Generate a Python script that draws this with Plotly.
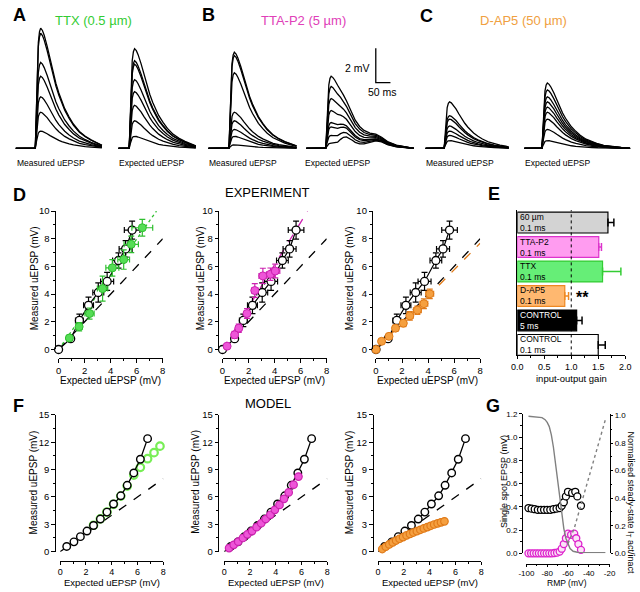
import plotly.graph_objects as go

FONT = "Liberation Sans, Arial, sans-serif"
W, H = 640, 592


def px(x):
    return x / W


def py(y):
    return 1 - y / H


# ====================== DATA ======================
# Panels A-C: peak amplitude of each superimposed sweep (mV)
A_MEASURED_AMP = [7.0, 6.7, 5.0, 4.2, 3.0, 2.1, 1.0]
A_EXPECTED_AMP = [5.8, 5.1, 4.9, 4.0, 3.3, 2.5, 1.6, 0.7]
B_MEASURED_AMP = [5.6, 5.4, 4.4, 2.1, 1.6, 1.1, 0.7, 0.2]
B_EXPECTED_AMP = [4.2, 3.6, 2.9, 2.2, 1.5, 1.25, 0.75, 0.3]
C_MEASURED_AMP = [2.7, 1.9, 1.7, 1.3, 1.0, 0.75, 0.45]
C_EXPECTED_AMP = [3.8, 3.4, 3.0, 2.7, 2.4, 2.1, 1.7, 1.1, 0.45]
# normalised uEPSP waveform read from the sweeps (time from stimulus, ms)
EPSP_T_MS = [-100, -1, 0, 3, 6, 10, 14, 18, 24, 30, 40, 50, 60, 70, 80, 90, 100,
             115, 130, 150, 170, 190, 210, 240, 270, 300]
EPSP_SHAPE = [0, 0, 0.03, 0.35, 0.68, 0.88, 0.97, 1.0, 0.98, 0.94, 0.85, 0.74, 0.63,
              0.54, 0.46, 0.39, 0.33, 0.26, 0.2, 0.14, 0.1, 0.07, 0.045, 0.025, 0.012, 0.0]
# late components in the TTA-P2 expected sweeps (mV)
B_EXPECTED_TAIL_MV = [0, 0, 0, 0, 0, 0, 0, 0, 0, 0.03, 0.1, 0.3, 0.45, 0.5, 0.45, 0.35,
                      0.25, 0.18, 0.2, 0.3, 0.4, 0.35, 0.2, 0.08, 0.03, 0.0]
SCALE_MV = 2
SCALE_MS = 50

# Panel D (experiment): expected vs measured uEPSP (mV)
CTRL_X = [0, 0.93, 1.6, 2.3, 3.05, 3.73, 4.6, 5.15, 5.65]
CTRL_Y = [0, 0.78, 2.1, 3.19, 4.12, 4.92, 6.43, 7.27, 8.63]
CTRL_XERR = [0, 0.15, 0.3, 0.38, 0.42, 0.5, 0.45, 0.5, 0.6]
CTRL_YERR = [0, 0.15, 0.45, 0.6, 0.7, 0.65, 0.55, 0.6, 0.65]

TTX_X = [0.83, 1.58, 2.38, 3.38, 4.13, 5.0, 5.58, 6.43]
TTX_Y = [0.83, 1.65, 2.6, 4.4, 5.9, 6.5, 7.6, 8.8]
TTX_XERR = [0.15, 0.25, 0.35, 0.4, 0.5, 0.45, 0.55, 0.8]
TTX_YERR = [0.2, 0.3, 0.4, 0.9, 0.6, 0.7, 0.6, 0.6]
TTX_SLOPE = 1.33

TTA_X = [0.35, 0.93, 1.25, 1.88, 2.48, 3.1, 3.68, 4.05]
TTA_Y = [0.24, 1.06, 1.54, 2.6, 4.26, 5.32, 5.44, 5.67]
TTA_XERR = [0.1, 0.15, 0.2, 0.2, 0.25, 0.3, 0.3, 0.35]
TTA_YERR = [0.1, 0.25, 0.3, 0.35, 0.5, 0.55, 0.45, 0.5]
TTA_SLOPE = 1.53

DAP5_X = [0, 0.43, 1.0, 1.5, 2.1, 2.6, 3.18, 3.68, 4.13]
DAP5_Y = [0, 0.59, 0.95, 1.54, 1.9, 2.43, 2.84, 3.31, 4.02]
DAP5_XERR = [0, 0.1, 0.12, 0.15, 0.2, 0.25, 0.3, 0.3, 0.3]
DAP5_YERR = [0, 0.1, 0.15, 0.2, 0.25, 0.3, 0.3, 0.35, 0.35]
DAP5_SLOPE = 0.96

UNITY = [0, 8]

# Panel E: input-output gain
E_LABELS = ["60 µm<br>0.1 ms", "TTA-P2<br>0.1 ms", "TTX<br>0.1 ms",
            "D-AP5<br>0.1 ms", "CONTROL<br>5 ms", "CONTROL<br>0.1 ms"]
E_KEYS = ["60um", "TTA-P2", "TTX", "D-AP5", "CTRL5", "CTRL01"]
E_GAIN = [1.68, 1.51, 1.58, 0.88, 1.10, 1.50]
E_SEM = [0.11, 0.05, 0.34, 0.07, 0.10, 0.13]
E_FILL = ["#d3d3d3", "#ff9cf0", "#66ee77", "#ffb870", "#000000", "#ffffff"]
E_EDGE = ["#000000", "#dd33cc", "#33cc33", "#ee8822", "#000000", "#000000"]
E_TEXT = ["#000000", "#000000", "#000000", "#000000", "#ffffff", "#000000"]
E_REF = 1.0

# Panel F (model)
M_CTRL_X = [0.51, 1.07, 1.57, 2.08, 2.59, 3.12, 3.63, 4.14, 4.7, 5.2, 5.71, 6.22, 6.78]
M_CTRL_Y = [0.57, 1.08, 1.65, 2.26, 2.87, 3.58, 4.34, 5.23, 6.13, 7.28, 8.64, 10.14, 12.4]
M_TTX_X = [2.59, 3.12, 3.63, 4.14, 4.7, 5.2, 5.71, 6.22, 6.78, 7.28, 7.74]
M_TTX_Y = [2.9, 3.6, 4.35, 5.2, 6.1, 7.2, 8.4, 9.25, 10.2, 10.86, 11.58]
M_TTA_X = [0.38, 0.74, 1.09, 1.45, 1.8, 2.16, 2.51, 2.87, 3.22, 3.58, 3.93, 4.29,
           4.64, 5.0, 5.38, 5.76]
M_TTA_Y = [0.39, 0.75, 1.1, 1.5, 1.9, 2.26, 2.69, 3.12, 3.58, 4.05, 4.59, 5.13,
           5.8, 6.5, 7.35, 8.24]
M_DAP5_X = [0.33, 0.6, 0.87, 1.14, 1.4, 1.67, 1.94, 2.21, 2.48, 2.74, 3.01, 3.28,
            3.55, 3.82, 4.08, 4.35, 4.62, 4.88, 5.15]
M_DAP5_Y = [0.29, 0.55, 0.8, 1.02, 1.22, 1.42, 1.6, 1.78, 1.95, 2.1, 2.25, 2.4,
            2.55, 2.7, 2.84, 2.98, 3.1, 3.22, 3.33]

# Panel G
G_CTRL_V = [-98, -95, -92, -89, -86, -83, -80, -77, -74, -71, -68, -66, -64, -62,
            -60, -56, -53, -51, -47.5]
G_CTRL_Y = [0.39, 0.385, 0.38, 0.375, 0.375, 0.375, 0.375, 0.375, 0.38, 0.385, 0.39,
            0.41, 0.44, 0.49, 0.53, 0.52, 0.53, 0.49, 0.41]
G_TTA_V = [-98, -95.5, -93, -90.5, -88, -85.5, -83, -80.5, -78, -75.5, -73, -70.5,
           -68, -66, -64, -62, -60, -57, -54, -52, -50, -47.5]
G_TTA_Y = [0, 0, 0, 0, 0, 0, 0, 0, 0, 0, 0.003, 0.006, 0.015, 0.04, 0.08, 0.13,
           0.17, 0.16, 0.17, 0.13, 0.08, 0.03]
G_INACT_V = [-98, -90, -85, -82, -80, -78, -76, -74, -72, -70, -68, -66, -64, -62,
             -60, -58, -55, -50, -40, -30, -24]
G_INACT = [0.995, 0.99, 0.985, 0.97, 0.95, 0.92, 0.86, 0.77, 0.65, 0.52, 0.39, 0.27,
           0.18, 0.11, 0.065, 0.035, 0.015, 0.006, 0.005, 0.005, 0.005]
G_ACT_V = [-60, -57, -54, -51, -48, -45, -42, -39, -36, -33, -30, -27, -24]
G_ACT = [0.07, 0.12, 0.18, 0.26, 0.34, 0.42, 0.5, 0.58, 0.66, 0.74, 0.82, 0.9, 0.97]
G_XTICKS = [-100, -80, -60, -40, -20]
G_XTICK_TEXT = ["-100", "-80", "-60", "-40", "-20"]

# ====================== COLOURS ======================
GREEN, GREEN_D = "#55dd55", "#2fbf2f"
MAG, MAG_D = "#ee55d8", "#cc22b0"
ORA, ORA_D = "#f5a040", "#e07a18"

fig = go.Figure()

# ---------------- A-C sweeps ----------------
MS_PER_PX = 50 / 15
MV_PER_PX = 2 / 35
BASE_PX = 145


def add_sweeps(amps, onset_px, pre_px, post_px, tail=None):
    onset = onset_px * MS_PER_PX
    pre = pre_px * MS_PER_PX
    post = post_px * MS_PER_PX
    for a in amps:
        xs, ys = [], []
        for i, t in enumerate(EPSP_T_MS):
            v = a * EPSP_SHAPE[i] + (tail[i] if tail else 0.0)
            tt = max(t, -pre)
            if tt > post:
                xs.append(onset + post)
                ys.append(v)
                break
            xs.append(onset + tt)
            ys.append(v)
        fig.add_trace(go.Scatter(x=xs, y=ys, mode="lines", xaxis="x", yaxis="y",
                                 line=dict(color="black", width=1.3), hoverinfo="skip"))


add_sweeps(A_MEASURED_AMP, 28, 20, 68)
add_sweeps(A_EXPECTED_AMP, 124, 11, 68)
add_sweeps(B_MEASURED_AMP, 226, 21, 69)
add_sweeps(B_EXPECTED_AMP, 325, 20, 90, B_EXPECTED_TAIL_MV)
add_sweeps(C_MEASURED_AMP, 446, 19, 66)
add_sweeps(C_EXPECTED_AMP, 546, 18, 90)

sb_x = 376 * MS_PER_PX
sb_y = (BASE_PX - 78) * MV_PER_PX
fig.add_trace(go.Scatter(x=[sb_x, sb_x, sb_x + SCALE_MS], y=[sb_y + SCALE_MV, sb_y, sb_y],
                         mode="lines", xaxis="x", yaxis="y",
                         line=dict(color="black", width=1.3), hoverinfo="skip"))


# ---------------- D panels ----------------
def circ(fill, edge, size=8, lw=1.2):
    return dict(symbol="circle", size=size, color=fill, line=dict(color=edge, width=lw))


def err(arr, color):
    return dict(type="data", array=arr, color=color, thickness=1.2, width=3)


def add_d(n, tx, ty, txe, tye, slope, col, col_d, fitdash):
    xa, ya = "x%d" % n, "y%d" % n
    fig.add_trace(go.Scatter(x=UNITY, y=UNITY, mode="lines", xaxis=xa, yaxis=ya,
                             line=dict(color="black", width=1.3, dash="dash")))
    xend = min(8, 10 / slope)
    fig.add_trace(go.Scatter(x=[0, xend], y=[0, slope * xend], mode="lines", xaxis=xa, yaxis=ya,
                             line=dict(color=col_d, width=1.3, dash=fitdash)))
    fig.add_trace(go.Scatter(x=CTRL_X, y=CTRL_Y, mode="lines+markers", xaxis=xa, yaxis=ya,
                             line=dict(color="black", width=1.2),
                             marker=circ("white", "black", 8, 1.3),
                             error_x=err(CTRL_XERR, "black"), error_y=err(CTRL_YERR, "black"),
                             cliponaxis=False))
    fig.add_trace(go.Scatter(x=tx, y=ty, mode="markers", xaxis=xa, yaxis=ya,
                             marker=circ(col, col_d, 8, 1),
                             error_x=err(txe, col_d), error_y=err(tye, col_d),
                             cliponaxis=False))


add_d(2, TTX_X, TTX_Y, TTX_XERR, TTX_YERR, TTX_SLOPE, GREEN, GREEN_D, "dot")
add_d(3, TTA_X, TTA_Y, TTA_XERR, TTA_YERR, TTA_SLOPE, MAG, MAG_D, "dash")
add_d(4, DAP5_X, DAP5_Y, DAP5_XERR, DAP5_YERR, DAP5_SLOPE, ORA, ORA_D, "dash")

# ---------------- E panel ----------------
for i, k in enumerate(E_KEYS):
    fig.add_trace(go.Bar(x=[E_GAIN[i]], y=[k], orientation="h", xaxis="x5", yaxis="y5",
                         width=0.85,
                         marker=dict(color=E_FILL[i], line=dict(color=E_EDGE[i], width=1.2)),
                         error_x=dict(type="data", array=[E_SEM[i]], arrayminus=[0],
                                      symmetric=False, color=E_EDGE[i],
                                      thickness=1.5, width=4)))


# ---------------- F panels ----------------
def add_f(n, mx, my, col, col_d, open_marker):
    xa, ya = "x%d" % n, "y%d" % n
    fig.add_trace(go.Scatter(x=UNITY, y=UNITY, mode="lines", xaxis=xa, yaxis=ya,
                             line=dict(color="black", width=1.3, dash="dash")))
    if open_marker:
        fig.add_trace(go.Scatter(x=mx, y=my, mode="markers", xaxis=xa, yaxis=ya,
                                 marker=circ("rgba(255,255,255,0)", col, 7.5, 2.2), cliponaxis=False))
    fig.add_trace(go.Scatter(x=M_CTRL_X, y=M_CTRL_Y, mode="lines+markers", xaxis=xa, yaxis=ya,
                             line=dict(color="black", width=1.3),
                             marker=circ("white", "black", 7.5, 1.4), cliponaxis=False))
    if not open_marker:
        fig.add_trace(go.Scatter(x=mx, y=my, mode="markers", xaxis=xa, yaxis=ya,
                                 marker=circ(col, col_d, 7.5, 1.2), cliponaxis=False))


add_f(6, M_TTX_X, M_TTX_Y, "#77ee55", GREEN_D, True)
add_f(7, M_TTA_X, M_TTA_Y, MAG, MAG_D, False)
add_f(8, M_DAP5_X, M_DAP5_Y, ORA, ORA_D, False)

# ---------------- G panel ----------------
fig.add_trace(go.Scatter(x=G_INACT_V, y=G_INACT, mode="lines", xaxis="x9", yaxis="y10",
                         line=dict(color="#808080", width=1.4)))
fig.add_trace(go.Scatter(x=G_ACT_V, y=G_ACT, mode="lines", xaxis="x9", yaxis="y10",
                         line=dict(color="#808080", width=1.4, dash="dot")))
fig.add_trace(go.Scatter(x=G_CTRL_V, y=G_CTRL_Y, mode="markers", xaxis="x9", yaxis="y9",
                         marker=circ("white", "black", 7, 1.3), cliponaxis=False))
fig.add_trace(go.Scatter(x=G_TTA_V, y=G_TTA_Y, mode="markers", xaxis="x9", yaxis="y9",
                         marker=circ("#fbe3f7", "#dd22cc", 7, 1.3), cliponaxis=False))

# ====================== LAYOUT ======================
TICKFONT = dict(family=FONT, size=9.5, color="black")


def minor(d, ln=2):
    return dict(ticks="outside", ticklen=ln, tickwidth=1, tickcolor="black", dtick=d, showgrid=False)


def axis(**kw):
    d = dict(showline=True, linecolor="black", linewidth=1, ticks="outside", ticklen=3.5,
             tickwidth=1, tickcolor="black", showgrid=False, zeroline=False,
             tickfont=TICKFONT, fixedrange=True)
    d.update(kw)
    return d


lay = dict(
    width=W, height=H, margin=dict(l=0, r=0, t=0, b=0),
    paper_bgcolor="white", plot_bgcolor="rgba(0,0,0,0)", showlegend=False,
    font=dict(family=FONT, color="black"), barmode="overlay",
    xaxis=dict(domain=[0, 1], range=[0, W * MS_PER_PX], visible=False, fixedrange=True),
    yaxis=dict(domain=[py(190), 1], range=[(BASE_PX - 190) * MV_PER_PX, BASE_PX * MV_PER_PX],
               visible=False, fixedrange=True),
)

# D axes
D_YPOS = [48, 215, 372.5]
D_X0 = [51.7, 219.3, 376.2]
for j in range(3):
    n = 2 + j
    lay["xaxis%d" % n] = axis(domain=[px(D_X0[j]), px(D_X0[j] + 106.5)], anchor="free",
                              position=py(359), range=[0, 8], dtick=2, minor=minor(1))
    lay["yaxis%d" % n] = axis(domain=[py(350), py(209)], anchor="free", position=px(D_YPOS[j]),
                              range=[0, 10], dtick=2, minor=minor(1))

# E axes
lay["xaxis5"] = axis(domain=[px(520.7), px(631)], anchor="y5", range=[0, 2], dtick=0.5,
                     tickformat=".1f", minor=minor(0.25), ticklen=3,
                     tickfont=dict(family=FONT, size=9, color="black"))
lay["yaxis5"] = axis(domain=[py(356), py(208)], anchor="x5", type="category",
                     categoryorder="array", categoryarray=E_KEYS, range=[5.43, -0.51],
                     showticklabels=False, ticks="")

# F axes
F_YPOS = [47.7, 215, 372.7]
F_X0 = [53.3, 221, 378.3]
FFONT = dict(family=FONT, size=9, color="black")
for j in range(3):
    n = 6 + j
    lay["xaxis%d" % n] = axis(domain=[px(F_X0[j]), px(F_X0[j] + 105.5)], anchor="free",
                              position=py(565), range=[0, 8], dtick=2, minor=minor(1),
                              tickfont=FFONT, ticklen=3)
    lay["yaxis%d" % n] = axis(domain=[py(556), py(416.7)], anchor="free", position=px(F_YPOS[j]),
                              range=[0, 15], dtick=3, minor=minor(1.5))

# G axes
GFONT = dict(family=FONT, size=8, color="black")
lay["xaxis9"] = axis(domain=[px(530), px(615)], anchor="free", position=py(568.3),
                     range=[-100, -20], tickvals=G_XTICKS, ticktext=G_XTICK_TEXT,
                     minor=minor(10, 1.5), tickfont=GFONT, ticklen=2)
lay["yaxis9"] = axis(domain=[py(557.7), py(415.7)], anchor="free", position=px(525),
                     range=[0, 1.2], dtick=0.2, tickformat=".1f", minor=minor(0.1, 1.5),
                     tickfont=GFONT, ticklen=2.5)
lay["yaxis10"] = axis(overlaying="y9", anchor="x9", side="right", range=[0, 1.2 / 1.1865],
                      dtick=0.2, tickformat=".1f", minor=minor(0.1, 1.5), tickfont=GFONT, ticklen=2.5)

fig.update_layout(**lay)

# ====================== ANNOTATIONS ======================
ann = []


def txt(x, y, s, size=10, color="black", xanchor="center", yanchor="middle", angle=0, bold=False):
    ann.append(dict(x=px(x), y=py(y), xref="paper", yref="paper", text=("<b>%s</b>" % s) if bold else s,
                    showarrow=False, xanchor=xanchor, yanchor=yanchor, textangle=angle,
                    font=dict(family=FONT, size=size, color=color)))


for lab, x, y in [("A", 3, 9.5), ("B", 196, 9.5), ("C", 419, 10), ("D", 3, 193),
                  ("E", 489, 192), ("F", 3, 408), ("G", 487, 408)]:
    txt(x, y, lab, size=18, xanchor="left", bold=True)

txt(87, 15, "TTX (0.5 µm)", 13, "#33cc33")
txt(302, 15, "TTA-P2 (5 µm)", 13, "#e040b8")
txt(527.5, 15, "D-AP5 (50 µm)", 13, "#f0a040")
for x, s in [(43.5, "Measured uEPSP"), (147, "Expected uEPSP"), (240, "Measured uEPSP"),
             (337, "Expected uEPSP"), (462.5, "Measured uEPSP"), (562, "Expected uEPSP")]:
    txt(x, 160, s, 8.5)
txt(372, 63, "2 mV", 10.5, xanchor="right")
txt(383, 88, "50 ms", 10.5)

txt(265, 190, "EXPERIMENT", 13)
txt(265.5, 405, "MODEL", 13)

for j in range(3):
    txt(D_X0[j] + 53, 381.5, "Expected uEPSP (mV)", 10)
    txt(F_X0[j] + 53, 587.3, "Expected uEPSP (mV)", 9.5)
for x in [27, 196.7, 350]:
    txt(x, 277, "Measured uEPSP (mV)", 10, angle=-90)
for x in [27, 192, 350]:
    txt(x, 485, "Measured uEPSP (mV)", 10, angle=-90)

# E labels
for i, k in enumerate(E_KEYS):
    ann.append(dict(x=0, y=k, xref="x5", yref="y5", text=E_LABELS[i], showarrow=False,
                    xanchor="left", yanchor="middle", align="left", xshift=1,
                    font=dict(family=FONT, size=8.5, color=E_TEXT[i])))
ann.append(dict(x=E_GAIN[3] + E_SEM[3] + 0.1, y="D-AP5", xref="x5", yref="y5", text="<b>**</b>",
                showarrow=False, xanchor="left", yanchor="middle", yshift=-2,
                font=dict(family=FONT, size=16, color="black")))
txt(576, 379.5, "input-output gain", 9.5)

# G titles
txt(571, 587.8, "RMP (mV)", 8.5)
txt(507, 484, "Single spot EPSP (mV)", 9, angle=-90)
txt(636, 506, "Normalised steady-state I<sub>T</sub> act/inact", 9, angle=90)

fig.update_layout(annotations=ann,
                  shapes=[dict(type="line", xref="x5", yref="y5 domain", x0=E_REF, x1=E_REF,
                               y0=0, y1=1, line=dict(color="black", width=1, dash="dot"))])

fig.write_html("out.html", config={"displayModeBar": False},
               post_script="document.body.style.margin='0px';")
